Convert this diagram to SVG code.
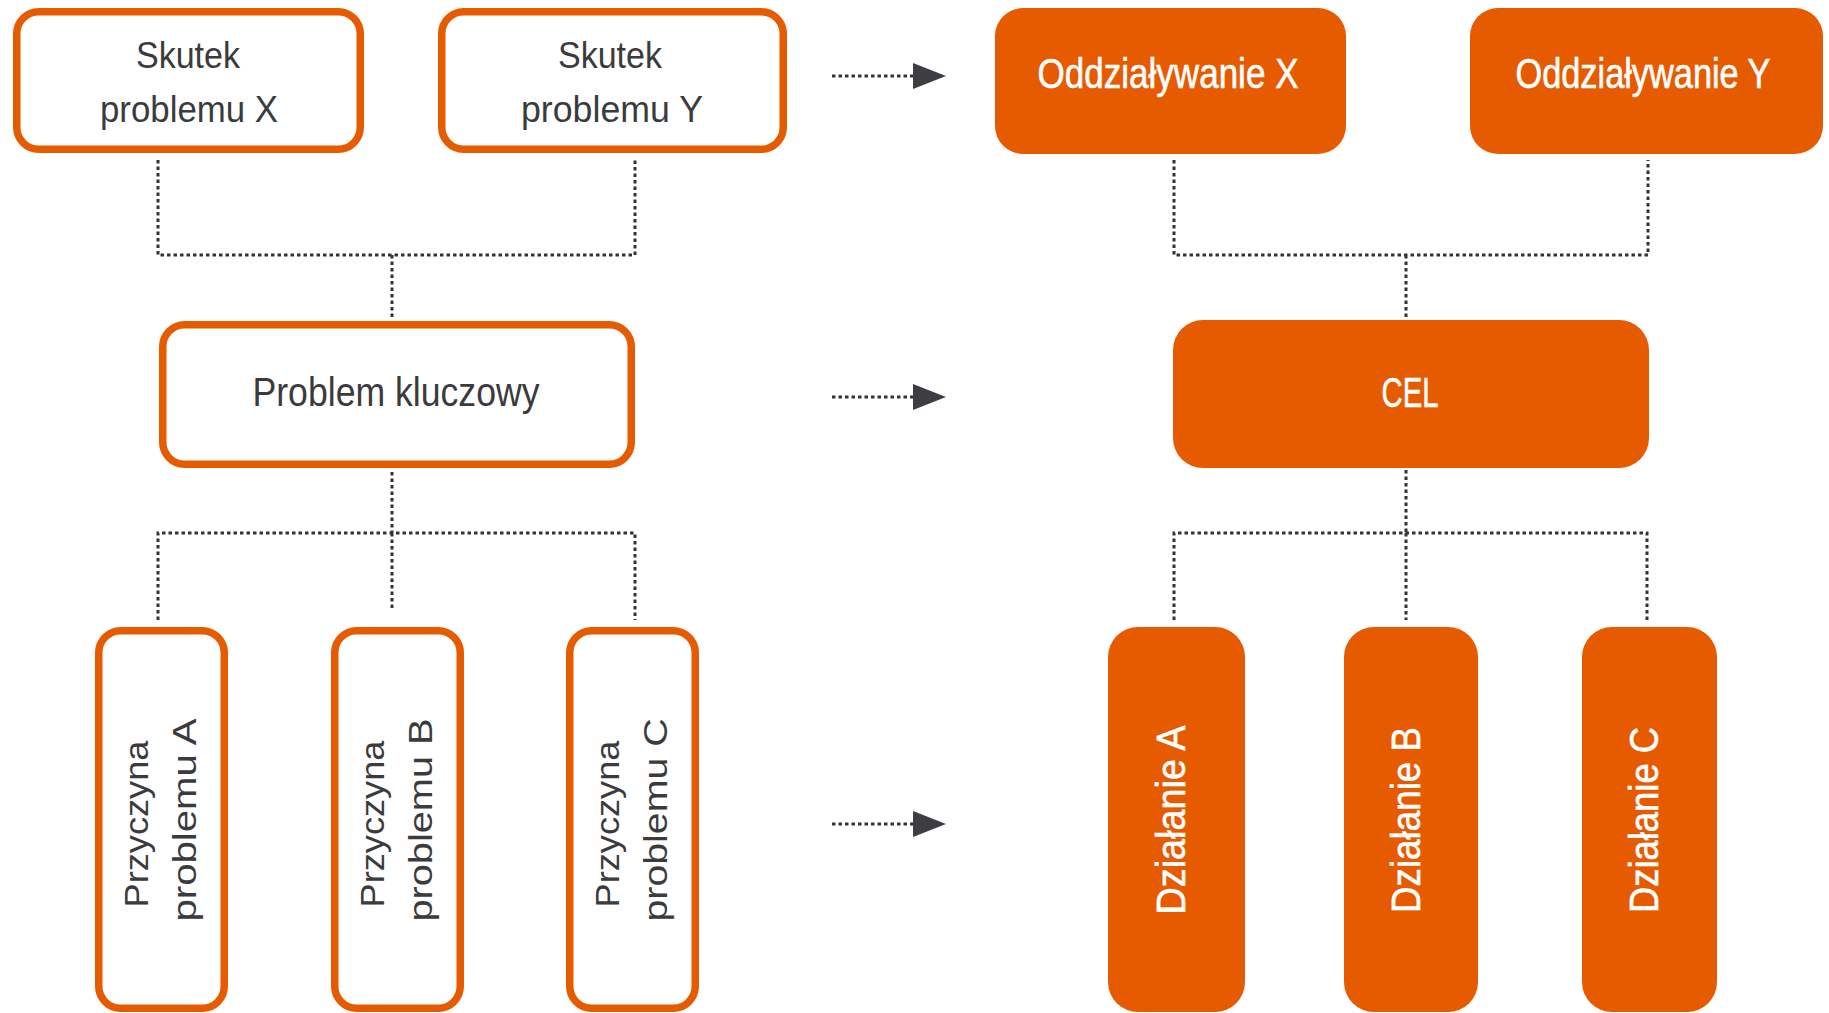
<svg xmlns="http://www.w3.org/2000/svg" width="1829" height="1013" viewBox="0 0 1829 1013">
<defs>
<style>
.ob{fill:#ffffff;stroke:#e75b00;stroke-width:7.5}
.fb{fill:#e75b00}
.dk{font-family:"Liberation Sans",Arial,sans-serif;fill:#3b3b3d;text-anchor:middle}
.wt{font-family:"Liberation Sans",Arial,sans-serif;fill:#ffffff;stroke:#ffffff;stroke-width:0.6;text-anchor:middle}
.dot{fill:none;stroke:#333333;stroke-width:3;stroke-dasharray:3.5 3}
.ah{fill:#3d3d42}
</style>
</defs>
<rect width="1829" height="1013" fill="#ffffff"/>
<g id="connectors">
<path class="dot" d="M158,160 V255 H635 V160 M392,255 V320"/>
<path class="dot" d="M392,472 V533 M158,620 V533 H635 V620 M392,533 V610"/>
<path class="dot" d="M1174,160 V255 H1648 V160 M1406,255 V320"/>
<path class="dot" d="M1406,470 V533 M1174,620 V533 H1647 V620 M1406,533 V620"/>
<path class="dot" d="M832,76 H913"/>
<polygon class="ah" points="913,63 946,76 913,89"/>
<path class="dot" d="M832,397 H913"/>
<polygon class="ah" points="913,384 946,397 913,410"/>
<path class="dot" d="M832,824 H913"/>
<polygon class="ah" points="913,811 946,824 913,837"/>
</g>
<g id="skutek-x">
<rect class="ob" x="16.75" y="11.75" width="343.5" height="137.5" rx="22"/>
<text class="dk" font-size="37" x="188" y="68" textLength="104" lengthAdjust="spacingAndGlyphs">Skutek</text>
<text class="dk" font-size="37" x="189" y="122" textLength="178" lengthAdjust="spacingAndGlyphs">problemu X</text>
</g>
<g id="skutek-y">
<rect class="ob" x="441.75" y="11.75" width="341.5" height="137.5" rx="22"/>
<text class="dk" font-size="37" x="610" y="68" textLength="104" lengthAdjust="spacingAndGlyphs">Skutek</text>
<text class="dk" font-size="37" x="612" y="122" textLength="182" lengthAdjust="spacingAndGlyphs">problemu Y</text>
</g>
<g id="oddzialywanie-x">
<rect class="fb" x="995" y="8" width="351" height="146" rx="28"/>
<text class="wt" font-size="42" x="1168" y="88" textLength="261" lengthAdjust="spacingAndGlyphs">Oddziaływanie X</text>
</g>
<g id="oddzialywanie-y">
<rect class="fb" x="1470" y="8" width="353" height="146" rx="28"/>
<text class="wt" font-size="42" x="1643" y="88" textLength="255" lengthAdjust="spacingAndGlyphs">Oddziaływanie Y</text>
</g>
<g id="problem-kluczowy">
<rect class="ob" x="162.75" y="324.75" width="468.5" height="139.5" rx="22"/>
<text class="dk" font-size="41" x="396" y="406" textLength="287" lengthAdjust="spacingAndGlyphs">Problem kluczowy</text>
</g>
<g id="cel">
<rect class="fb" x="1173" y="320" width="476" height="148" rx="30"/>
<text class="wt" font-size="42" x="1410" y="407" textLength="57" lengthAdjust="spacingAndGlyphs">CEL</text>
</g>
<g id="przyczyna-a">
<rect class="ob" x="98.75" y="630.75" width="125.5" height="377.5" rx="22"/>
<text class="dk" font-size="34" transform="translate(148,824) rotate(-90)" textLength="167" lengthAdjust="spacingAndGlyphs">Przyczyna</text>
<text class="dk" font-size="34" transform="translate(196,820) rotate(-90)" textLength="203" lengthAdjust="spacingAndGlyphs">problemu A</text>
</g>
<g id="przyczyna-b">
<rect class="ob" x="334.75" y="630.75" width="125.5" height="377.5" rx="22"/>
<text class="dk" font-size="34" transform="translate(384,824) rotate(-90)" textLength="167" lengthAdjust="spacingAndGlyphs">Przyczyna</text>
<text class="dk" font-size="34" transform="translate(432,820) rotate(-90)" textLength="203" lengthAdjust="spacingAndGlyphs">problemu B</text>
</g>
<g id="przyczyna-c">
<rect class="ob" x="569.75" y="630.75" width="125.5" height="377.5" rx="22"/>
<text class="dk" font-size="34" transform="translate(619,824) rotate(-90)" textLength="167" lengthAdjust="spacingAndGlyphs">Przyczyna</text>
<text class="dk" font-size="34" transform="translate(667,820) rotate(-90)" textLength="203" lengthAdjust="spacingAndGlyphs">problemu C</text>
</g>
<g id="dzialanie-a">
<rect class="fb" x="1108" y="627" width="137" height="385" rx="30"/>
<text class="wt" font-size="40" transform="translate(1185,820) rotate(-90)" textLength="189" lengthAdjust="spacingAndGlyphs">Działanie A</text>
</g>
<g id="dzialanie-b">
<rect class="fb" x="1344" y="627" width="134" height="385" rx="30"/>
<text class="wt" font-size="40" transform="translate(1420,820) rotate(-90)" textLength="186" lengthAdjust="spacingAndGlyphs">Działanie B</text>
</g>
<g id="dzialanie-c">
<rect class="fb" x="1582" y="627" width="135" height="385" rx="30"/>
<text class="wt" font-size="40" transform="translate(1658,820) rotate(-90)" textLength="186" lengthAdjust="spacingAndGlyphs">Działanie C</text>
</g>
</svg>
